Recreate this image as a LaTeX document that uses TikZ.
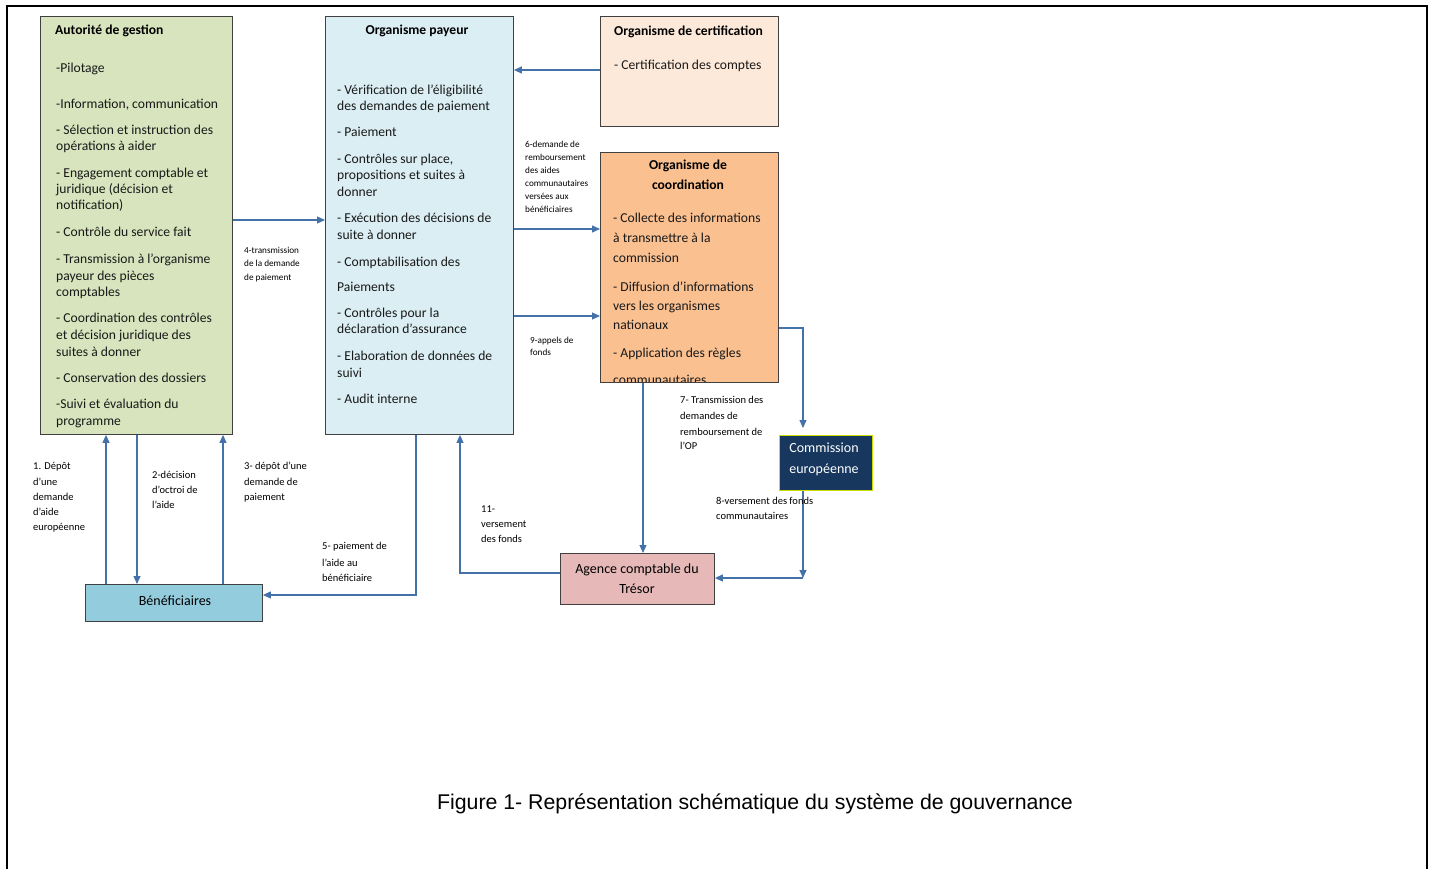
\documentclass[tikz,border=0pt]{standalone}
\usepackage{fontspec}
\setmainfont{Carlito}
\newfontfamily\capfont{Liberation Sans}
\usetikzlibrary{arrows.meta}
\definecolor{agfill}{HTML}{D7E4BD}
\definecolor{payfill}{HTML}{DBEEF4}
\definecolor{certfill}{HTML}{FDE9D9}
\definecolor{coordfill}{HTML}{FAC090}
\definecolor{commfill}{HTML}{17375E}
\definecolor{commborder}{RGB}{204,221,0}
\definecolor{agencefill}{HTML}{E6B9B8}
\definecolor{beneffill}{HTML}{93CDDD}
\definecolor{arrcol}{RGB}{68,114,168}
\definecolor{boxline}{HTML}{404040}
\tikzset{
  box/.style={draw=boxline, line width=0.9pt, anchor=north west, inner sep=0pt},
  txt/.style={font=\fontsize{13.6}{16}\selectfont, inner sep=0pt, anchor=base west, text=black!90},
  ttl/.style={font=\fontsize{13.6}{16}\selectfont\bfseries, inner sep=0pt, anchor=base west},
  ctr/.style={font=\fontsize{14}{16}\selectfont, inner sep=0pt, anchor=base},
  lbl/.style={font=\fontsize{10.5}{12}\selectfont, inner sep=0pt, anchor=base west},
  slbl/.style={font=\fontsize{9.2}{11}\selectfont, inner sep=0pt, anchor=base west},
  arr/.style={draw=arrcol, line width=1.1pt, -{Triangle[length=8pt,width=7pt]}}
}
\begin{document}
\begin{tikzpicture}[x=1pt,y=-1pt]
\clip (0,0) rectangle (1433,869);
\fill[white] (0,0) rectangle (1433,869);
% outer frame
\draw[line width=2.5pt] (7,885) -- (7,6) -- (1427,6) -- (1427,885);

% boxes
\node[box, fill=agfill, minimum width=192pt, minimum height=418pt] (ag) at (40,16) {};
\node[box, fill=payfill, minimum width=188pt, minimum height=418pt] (pay) at (325,16) {};
\node[box, fill=certfill, minimum width=178pt, minimum height=110pt] (cert) at (600,16) {};
\node[box, fill=coordfill, minimum width=178pt, minimum height=230pt] (coord) at (600,152) {};
\node[box, draw=commborder, fill=commfill, minimum width=93pt, minimum height=55pt] (comm) at (779,435) {};
\node[box, fill=agencefill, minimum width=154pt, minimum height=51pt] (agence) at (560,553) {};
\node[box, fill=beneffill, minimum width=177pt, minimum height=37pt] (benef) at (85,584) {};

% Autorite de gestion
\node[ttl] (agt) at (55,35) {Autorité de gestion};
\node[txt] (ag1) at (56,73) {-Pilotage};
\node[txt] (ag2) at (56,109) {-Information, communication};
\node[txt] (ag3) at (56,135) {- Sélection et instruction des};
\node[txt] (ag3b) at (56,151) {opérations à aider};
\node[txt] (ag4) at (56,178) {- Engagement comptable et};
\node[txt] (ag4b) at (56,194) {juridique (décision et};
\node[txt] (ag4c) at (56,210) {notification)};
\node[txt] (ag5) at (56,237) {- Contrôle du service fait};
\node[txt] (ag6) at (56,264) {- Transmission à l’organisme};
\node[txt] (ag6b) at (56,280) {payeur des pièces};
\node[txt] (ag6c) at (56,297) {comptables};
\node[txt] (ag7) at (56,323) {- Coordination des contrôles};
\node[txt] (ag7b) at (56,339) {et décision juridique des};
\node[txt] (ag7c) at (56,356) {suites à donner};
\node[txt] (ag8) at (56,382) {- Conservation des dossiers};
\node[txt] (ag9) at (56,408) {-Suivi et évaluation du};
\node[txt] (ag9b) at (56,425) {programme};

% Organisme payeur
\node[ttl, anchor=base] (payt) at (417,35) {Organisme payeur};
\node[txt] (p1) at (337,95) {- Vérification de l’éligibilité};
\node[txt] (p1b) at (337,111) {des demandes de paiement};
\node[txt] (p2) at (337,137) {- Paiement};
\node[txt] (p3) at (337,164) {- Contrôles sur place,};
\node[txt] (p3b) at (337,180) {propositions et suites à};
\node[txt] (p3c) at (337,197) {donner};
\node[txt] (p4) at (337,223) {- Exécution des décisions de};
\node[txt] (p4b) at (337,240) {suite à donner};
\node[txt] (p5) at (337,266) {- Comptabilisation des};
\node[txt] (p5b) at (337,291) {Paiements};
\node[txt] (p6) at (337,317) {- Contrôles pour la};
\node[txt] (p6b) at (337,334) {déclaration d’assurance};
\node[txt] (p7) at (337,360) {- Elaboration de données de};
\node[txt] (p7b) at (337,377) {suivi};
\node[txt] (p8) at (337,403) {- Audit interne};

% Certification
\node[ttl] (certt) at (614,36) {Organisme de certification};
\node[txt] (c1t) at (614,70) {- Certification des comptes};

% Coordination
\node[ttl, anchor=base] (coordt) at (688,170) {Organisme de};
\node[ttl, anchor=base] (coordt2) at (688,190) {coordination};
\node[txt] (co1) at (613,223) {- Collecte des informations};
\node[txt] (co1b) at (613,243) {à transmettre à la};
\node[txt] (co1c) at (613,262) {commission};
\node[txt] (co2) at (613,291) {- Diffusion d’informations};
\node[txt] (co2b) at (613,310) {vers les organismes};
\node[txt] (co2c) at (613,329) {nationaux};
\node[txt] (co3) at (613,357) {- Application des règles};
\begin{scope}
\clip (600,152) rectangle (778,381);
\node[txt] (co3b) at (613,384) {communautaires};
\end{scope}
\draw[boxline, line width=0.9pt] (coord.south west) -- (coord.south east);

% other boxes text
\node[ctr, text=white] (commt) at (824,452) {Commission};
\node[ctr, text=white] (commt2) at (824,473) {européenne};
\node[ctr] (agt1) at (637,573) {Agence comptable du};
\node[ctr] (agt2) at (637,593) {Trésor};
\node[ctr] (bent) at (175,605) {Bénéficiaires};

% connectors
\draw[arr] (cert.west |- 0,70) -- (pay.east |- 0,70);
\draw[arr] (ag.east |- 0,220) -- (pay.west |- 0,220);
\draw[arr] (pay.east |- 0,229) -- (coord.west |- 0,229);
\draw[arr] (pay.east |- 0,316) -- (coord.west |- 0,316);
\coordinate (k1) at (803,328);
\draw[arr, shorten >=7pt] (coord.east |- k1) -- (k1) -- (k1 |- comm.north);
\draw[arr] (coord.south -| 643,0) -- (agence.north -| 643,0);
\coordinate (k2) at (803,578);
\draw[arr] (comm.south -| k2) -- (k2);
\draw[arr] (k2) -- (agence.east |- k2);
\coordinate (k3) at (460,573);
\draw[arr] (agence.west |- k3) -- (k3) -- (pay.south -| k3);
\coordinate (k4) at (416,595);
\draw[arr] (pay.south -| k4) -- (k4) -- (benef.east |- k4);
\draw[arr] (benef.north -| 106,0) -- (ag.south -| 106,0);
\draw[arr] (ag.south -| 137,0) -- (benef.north -| 137,0);
\draw[arr] (benef.north -| 223,0) -- (ag.south -| 223,0);

% labels
\node[slbl] (l4a) at (244,254) {4-transmission};
\node[slbl] (l4b) at (244,267) {de la demande};
\node[slbl] (l4c) at (244,280) {de paiement};
\node[slbl] (l6a) at (525,148) {6-demande de};
\node[slbl] (l6b) at (525,161) {remboursement};
\node[slbl] (l6c) at (525,174) {des aides};
\node[slbl] (l6d) at (525,187) {communautaires};
\node[slbl] (l6e) at (525,200) {versées aux};
\node[slbl] (l6f) at (525,213) {bénéficiaires};
\node[slbl] (l9a) at (530,343) {9-appels de};
\node[slbl] (l9b) at (530,355) {fonds};
\node[lbl] (l7a) at (680,403) {7- Transmission des};
\node[lbl] (l7b) at (680,419) {demandes de};
\node[lbl] (l7c) at (680,435) {remboursement de};
\node[lbl] (l7d) at (680,449) {l’OP};
\node[lbl] (l8a) at (716,504) {8-versement des fonds};
\node[lbl] (l8b) at (716,519) {communautaires};
\node[lbl] (l11a) at (481,512) {11-};
\node[lbl] (l11b) at (481,527) {versement};
\node[lbl] (l11c) at (481,542) {des fonds};
\node[lbl] (l5a) at (322,549) {5- paiement de};
\node[lbl] (l5b) at (322,566) {l’aide au};
\node[lbl] (l5c) at (322,581) {bénéficiaire};
\node[lbl] (l1a) at (33,469) {1. Dépôt};
\node[lbl] (l1b) at (33,485) {d’une};
\node[lbl] (l1c) at (33,500) {demande};
\node[lbl] (l1d) at (33,515) {d’aide};
\node[lbl] (l1e) at (33,530) {européenne};
\node[lbl] (l2a) at (152,478) {2-décision};
\node[lbl] (l2b) at (152,493) {d’octroi de};
\node[lbl] (l2c) at (152,508) {l’aide};
\node[lbl] (l3a) at (244,469) {3- dépôt d’une};
\node[lbl] (l3b) at (244,485) {demande de};
\node[lbl] (l3c) at (244,500) {paiement};

% caption
\node[inner sep=0pt, anchor=base, font=\capfont\fontsize{21.3}{25}\selectfont] (cap) at (755,809) {Figure 1- Représentation schématique du système de gouvernance};
\end{tikzpicture}
\end{document}
